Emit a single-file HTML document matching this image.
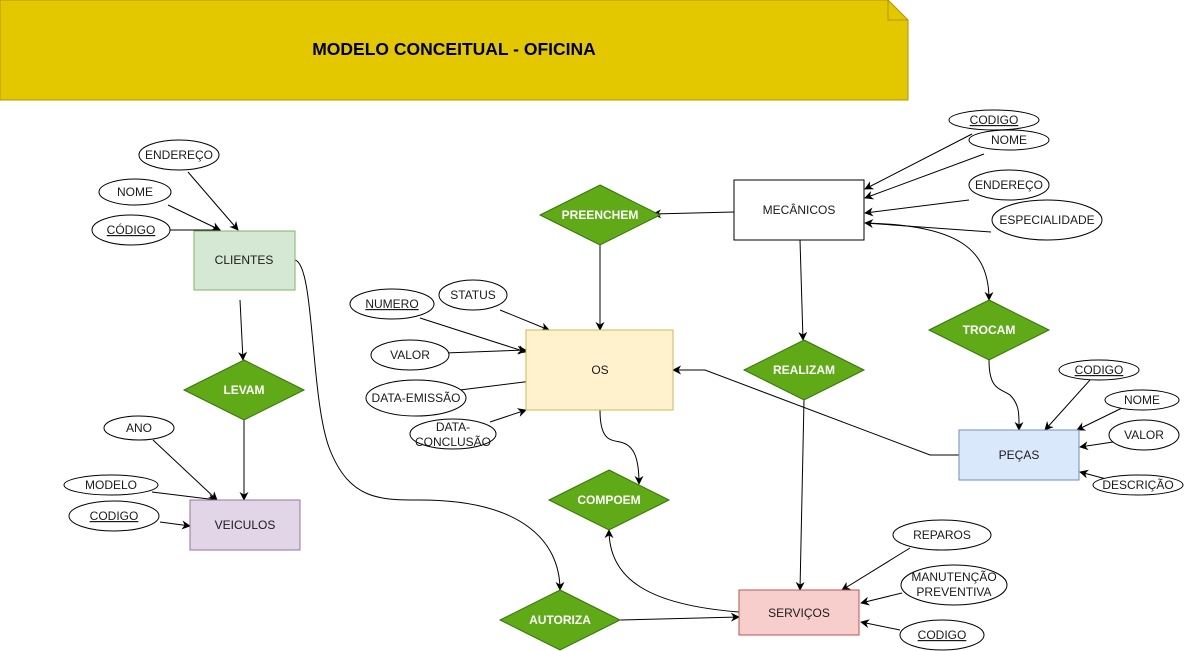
<!DOCTYPE html>
<html><head><meta charset="utf-8"><style>
html,body{margin:0;padding:0;background:#fff;}
svg{display:block;}
text{font-family:"Liberation Sans",sans-serif;font-size:12px;fill:#1a1a1a;}
.d text,.dt{fill:#fff;font-weight:bold;}
</style></head><body>
<svg width="1184" height="651" viewBox="0 0 1184 651" xmlns="http://www.w3.org/2000/svg">
<defs>
<marker id="a" viewBox="0 0 10 10" refX="9" refY="5" markerWidth="9" markerHeight="9" orient="auto" markerUnits="userSpaceOnUse">
<path d="M0,0 L10,5 L0,10 L3,5 z" fill="#000"/>
</marker>
</defs>
<polygon points="0,0 888,0 908,20 908,100 0,100" fill="#e3c800" stroke="#b09500"/>
<polyline points="888,0 888,20 908,20" fill="none" stroke="#b09500"/>
<text x="454" y="55" text-anchor="middle" style="font-size:17.5px;font-weight:bold;fill:#000">MODELO CONCEITUAL - OFICINA</text>

<g fill="none" stroke="#000" stroke-width="1" marker-end="url(#a)">
<line x1="188" y1="172" x2="238" y2="230"/>
<line x1="168" y1="205" x2="220" y2="230"/>
<line x1="166" y1="230" x2="220" y2="230"/>
<line x1="240" y1="300" x2="243" y2="360"/>
<line x1="244" y1="420" x2="244" y2="500"/>
<line x1="153" y1="440" x2="217" y2="500"/>
<line x1="152" y1="492" x2="217" y2="500"/>
<line x1="160" y1="522" x2="190" y2="526"/>
<path d="M295,260 C315,265 310,400 330,450 C350,500 380,500 420,500 C520,500 560,540 560,590"/>
<line x1="420" y1="318" x2="526" y2="352"/>
<line x1="500" y1="310" x2="549" y2="330"/>
<line x1="445" y1="353" x2="526" y2="350"/>
<line x1="460" y1="390" x2="540" y2="380"/>
<line x1="490" y1="422" x2="526" y2="410"/>
<line x1="734" y1="212" x2="653" y2="214"/>
<line x1="600" y1="245" x2="600" y2="330"/>
<line x1="800" y1="240" x2="803" y2="340"/>
<line x1="804" y1="400" x2="800" y2="590"/>
<line x1="972" y1="134" x2="865" y2="189"/>
<line x1="984" y1="154" x2="865" y2="198"/>
<line x1="969" y1="200" x2="865" y2="213"/>
<line x1="991" y1="232" x2="865" y2="223"/>
<path d="M865,223 C960,225 989,250 989,300"/>
<path d="M989,360 C989,390 1000,388 1010,395 C1020,405 1019,415 1019,430"/>
<polyline points="959,455 930,455 705,370 673,370"/>
<line x1="1090" y1="380" x2="1045" y2="430"/>
<line x1="1122" y1="408" x2="1077" y2="430"/>
<line x1="1113" y1="442" x2="1080" y2="447"/>
<line x1="1110" y1="480" x2="1080" y2="472"/>
<path d="M600,410 C600,440 610,440 620,442 C635,445 639,460 639,484"/>
<path d="M739,612 C650,605 609,580 609,530"/>
<line x1="620" y1="620" x2="739" y2="617"/>
<line x1="910" y1="548" x2="842" y2="590"/>
<line x1="902" y1="593" x2="861" y2="603"/>
<line x1="900" y1="630" x2="861" y2="622"/>
</g>

<rect x="194" y="231" width="101" height="59" fill="#d5e8d4" stroke="#82b366"/>
<text x="244" y="264" text-anchor="middle">CLIENTES</text>
<rect x="190" y="500" width="110" height="50" fill="#e1d5e7" stroke="#9673a6"/>
<text x="245" y="529" text-anchor="middle">VEICULOS</text>
<rect x="526" y="330" width="147" height="80" fill="#fff2cc" stroke="#d6b656"/>
<text x="600" y="374" text-anchor="middle">OS</text>
<rect x="734" y="180" width="130" height="60" fill="#fff" stroke="#000"/>
<text x="799" y="214" text-anchor="middle">MECÂNICOS</text>
<rect x="959" y="430" width="120" height="50" fill="#dae8fc" stroke="#6c8ebf"/>
<text x="1019" y="459" text-anchor="middle">PEÇAS</text>
<rect x="739" y="590" width="120" height="45" fill="#f8cecc" stroke="#b85450"/>
<text x="799" y="617" text-anchor="middle">SERVIÇOS</text>

<g fill="#60a917" stroke="#2d7600">
<polygon points="600,185 660,215 600,245 540,215"/>
<polygon points="244,360 304,390 244,420 184,390"/>
<polygon points="804,340 864,370 804,400 744,370"/>
<polygon points="989,300 1049,330 989,360 929,330"/>
<polygon points="609,470 669,500 609,530 549,500"/>
<polygon points="560,590 620,620 560,650 500,620"/>
</g>
<g text-anchor="middle">
<text class="dt" x="600" y="219">PREENCHEM</text>
<text class="dt" x="244" y="394">LEVAM</text>
<text class="dt" x="804" y="374">REALIZAM</text>
<text class="dt" x="989" y="334">TROCAM</text>
<text class="dt" x="609" y="504">COMPOEM</text>
<text class="dt" x="560" y="624">AUTORIZA</text>
</g>

<g fill="#fff" stroke="#000">
<ellipse cx="179" cy="155" rx="40" ry="15"/>
<ellipse cx="135" cy="192" rx="36" ry="13"/>
<ellipse cx="131" cy="230" rx="39" ry="15"/>
<ellipse cx="392" cy="304" rx="42" ry="15"/>
<ellipse cx="473" cy="295" rx="34" ry="15"/>
<ellipse cx="410" cy="355" rx="39" ry="15"/>
<ellipse cx="416" cy="398" rx="50" ry="18"/>
<ellipse cx="453" cy="434" rx="43" ry="15"/>
<ellipse cx="139" cy="428" rx="35" ry="12"/>
<ellipse cx="111" cy="485" rx="47" ry="10"/>
<ellipse cx="114" cy="516" rx="45" ry="15"/>
<ellipse cx="994" cy="120" rx="45" ry="10"/>
<ellipse cx="1009" cy="140" rx="40" ry="10"/>
<ellipse cx="1009" cy="185" rx="40" ry="15"/>
<ellipse cx="1047" cy="220" rx="55" ry="20"/>
<ellipse cx="1099" cy="370" rx="40" ry="10"/>
<ellipse cx="1142" cy="400" rx="37" ry="10"/>
<ellipse cx="1144" cy="435" rx="35" ry="15"/>
<ellipse cx="1138" cy="485" rx="45" ry="10"/>
<ellipse cx="942" cy="535" rx="49" ry="15"/>
<ellipse cx="954" cy="585" rx="53" ry="20"/>
<ellipse cx="942" cy="635" rx="42" ry="15"/>
</g>
<g text-anchor="middle">
<text x="179" y="159">ENDEREÇO</text>
<text x="135" y="196">NOME</text>
<text x="131" y="234" text-decoration="underline">CÓDIGO</text>
<text x="392" y="308" text-decoration="underline">NUMERO</text>
<text x="473" y="299">STATUS</text>
<text x="410" y="359">VALOR</text>
<text x="416" y="402">DATA-EMISSÃO</text>
<text x="453" y="431">DATA-</text>
<text x="453" y="446">CONCLUSÃO</text>
<text x="139" y="432">ANO</text>
<text x="111" y="489">MODELO</text>
<text x="114" y="520" text-decoration="underline">CODIGO</text>
<text x="994" y="124" text-decoration="underline">CODIGO</text>
<text x="1009" y="144">NOME</text>
<text x="1009" y="189">ENDEREÇO</text>
<text x="1047" y="224">ESPECIALIDADE</text>
<text x="1099" y="374" text-decoration="underline">CODIGO</text>
<text x="1142" y="404">NOME</text>
<text x="1144" y="439">VALOR</text>
<text x="1138" y="489">DESCRIÇÃO</text>
<text x="942" y="539">REPAROS</text>
<text x="954" y="581">MANUTENÇÃO</text>
<text x="954" y="596">PREVENTIVA</text>
<text x="942" y="639" text-decoration="underline">CODIGO</text>
</g>
</svg>
</body></html>
